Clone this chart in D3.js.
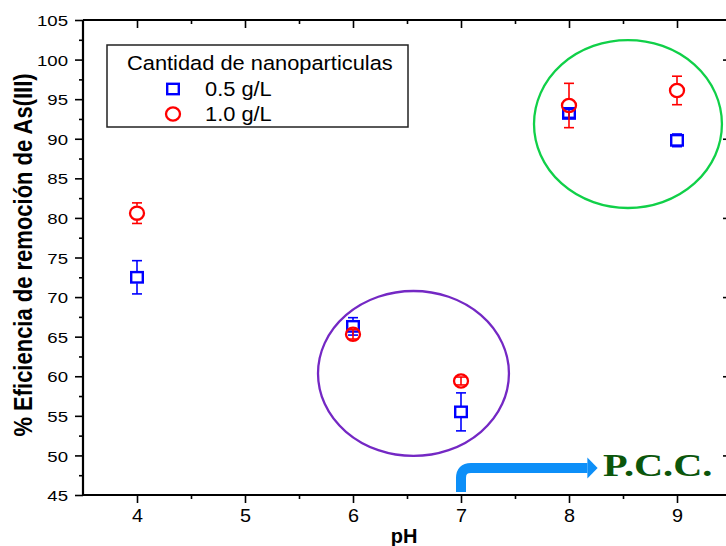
<!DOCTYPE html>
<html><head><meta charset="utf-8">
<script src="https://cdn.jsdelivr.net/npm/d3@7"></script>
<style>body{margin:0;background:#fff;} svg{display:block;background:#fff}</style>
</head><body><svg id="c" width="726" height="546"></svg>
<script>
// ---- data ----
const pH = [4, 6, 7, 8, 9];
const eff05 = [72.5, 66.3, 55.5, 93.2, 89.8];
const err05 = [2.1, 1.1, 2.4, 0.5, 0.8];
const eff10 = [80.6, 65.3, 59.4, 94.2, 96.1];
const err10 = [1.3, 0.6, 0.5, 2.8, 1.8];
const xTicks = [4, 5, 6, 7, 8, 9];
const xMinor = [4.5, 5.5, 6.5, 7.5, 8.5, 9.5];
const yTicks = [45, 50, 55, 60, 65, 70, 75, 80, 85, 90, 95, 100, 105];
const yMinor = [47.5, 52.5, 57.5, 62.5, 67.5, 72.5, 77.5, 82.5, 87.5, 92.5, 97.5, 102.5];
const yRightMajor = [50, 60, 70, 80, 90, 100];
const yRightMinor = [45, 55, 65, 75, 85, 95, 105];
const seriesNames = ["0.5 g/L", "1.0 g/L"];
const legendTitle = "Cantidad de nanoparticulas";
const xLabel = "pH";
const yLabel = "% Eficiencia de remoción de As(III)";
const note = "P.C.C.";

const SANS = "'Liberation Sans', Arial, sans-serif";
const SERIF = "'Liberation Serif', 'Times New Roman', serif";
const BLUE = "#0000ff", RED = "#ff0000";

const svg = d3.select("#c");
const x = d3.scaleLinear().domain([3.5, 9.5]).range([83, 731]);
const y = d3.scaleLinear().domain([45, 105]).range([495, 20]);

// ---- annotations (behind) ----
function ell(cx, cy, rxU, ryU, col) {
  svg.append("ellipse")
    .attr("cx", x(cx)).attr("cy", y(cy))
    .attr("rx", x(cx + rxU) - x(cx)).attr("ry", y(cy) - y(cy + ryU))
    .attr("fill", "none").attr("stroke", col).attr("stroke-width", 2.3);
}
ell(8.546, 91.86, 0.87, 10.61, "#10d048");
ell(6.56, 60.35, 0.884, 10.42, "#7428c4");

// ---- axes ----
function styleAxis(g) {
  g.select(".domain").remove();
  g.selectAll(".tick line").attr("stroke", "#000").attr("stroke-width", 1.6);
}
const gB = svg.append("g").attr("transform", `translate(0,${y(45)})`)
  .call(d3.axisBottom(x).tickValues(xTicks).tickSize(8).tickFormat(d3.format("d")));
styleAxis(gB);
gB.selectAll("text").attr("y", 0).attr("dy", 0)
  .attr("transform", "translate(0,27) scale(1.1,1)")
  .attr("font-family", SANS).attr("font-size", 18).attr("fill", "#000");
styleAxis(svg.append("g").attr("transform", `translate(0,${y(45)})`)
  .call(d3.axisBottom(x).tickValues(xMinor).tickSize(4).tickFormat("")));
styleAxis(svg.append("g").attr("transform", `translate(0,${y(105)})`)
  .call(d3.axisTop(x).tickValues(xTicks).tickSize(-8).tickFormat("")));
styleAxis(svg.append("g").attr("transform", `translate(0,${y(105)})`)
  .call(d3.axisTop(x).tickValues(xMinor).tickSize(-4).tickFormat("")));

const gL = svg.append("g").attr("transform", `translate(${x(3.5)},0)`)
  .call(d3.axisLeft(y).tickValues(yTicks).tickSize(8).tickFormat(d3.format("d")));
styleAxis(gL);
gL.selectAll("text").attr("x", 0).attr("dy", "0.36em")
  .attr("transform", "translate(-15,0) scale(1.2,1)")
  .attr("font-family", SANS).attr("font-size", 15.5).attr("fill", "#000");
styleAxis(svg.append("g").attr("transform", `translate(${x(3.5)},0)`)
  .call(d3.axisLeft(y).tickValues(yMinor).tickSize(4).tickFormat("")));
styleAxis(svg.append("g").attr("transform", `translate(${x(9.5)},0)`)
  .call(d3.axisRight(y).tickValues(yRightMajor).tickSize(-8).tickFormat("")));
styleAxis(svg.append("g").attr("transform", `translate(${x(9.5)},0)`)
  .call(d3.axisRight(y).tickValues(yRightMinor).tickSize(-4).tickFormat("")));

// frame
const fr = svg.append("g").attr("stroke", "#000").attr("stroke-width", 2.2);
fr.append("line").attr("x1", x(3.5)).attr("x2", x(9.5)).attr("y1", y(45)).attr("y2", y(45));
fr.append("line").attr("x1", x(3.5)).attr("x2", x(9.5)).attr("y1", y(105)).attr("y2", y(105));
fr.append("line").attr("x1", x(3.5)).attr("x2", x(3.5)).attr("y1", y(45)).attr("y2", y(105));
fr.append("line").attr("x1", x(9.5)).attr("x2", x(9.5)).attr("y1", y(45)).attr("y2", y(105));

// axis titles
svg.append("text").text(xLabel)
  .attr("transform", "translate(404,543)")
  .attr("text-anchor", "middle").attr("font-family", SANS).attr("font-weight", "bold")
  .attr("font-size", 20).attr("fill", "#000");
svg.append("text").text(yLabel)
  .attr("transform", "translate(32,255) scale(1.15,1) rotate(-90)")
  .attr("text-anchor", "middle").attr("font-family", SANS).attr("font-weight", "bold")
  .attr("font-size", 22).attr("fill", "#000");

// ---- arrow + P.C.C. ----
const ax = x(7), ay = y(48.4);
svg.append("path")
  .attr("d", `M${ax},${y(45) - 3} V${ay + 10} Q${ax},${ay} ${ax + 10},${ay} H${x(8.17)}`)
  .attr("fill", "none").attr("stroke", "#0d8ff8").attr("stroke-width", 10);
svg.append("path")
  .attr("d", `M${x(8.17)},${ay - 10.5} L${x(8.265)},${ay} L${x(8.17)},${ay + 10.5} Z`)
  .attr("fill", "#0d8ff8");
svg.append("text").text(note)
  .attr("transform", `translate(${x(8.315)},${y(47.35)}) scale(1.26,1)`)
  .attr("font-family", SERIF).attr("font-weight", "bold").attr("font-size", 32)
  .attr("fill", "#0b560b");

// ---- series ----
function drawErr(g, xs, vs, es, col, half) {
  xs.forEach((xv, i) => {
    const cx = x(xv), cy = y(vs[i]);
    const ep = y(vs[i] - es[i]) - cy;
    const e = g.append("g").attr("stroke", col).attr("stroke-width", 1.6);
    if (ep > half) {
      e.append("line").attr("x1", cx).attr("x2", cx).attr("y1", cy - ep).attr("y2", cy - half);
      e.append("line").attr("x1", cx).attr("x2", cx).attr("y1", cy + half).attr("y2", cy + ep);
    } else {
      e.append("line").attr("x1", cx).attr("x2", cx).attr("y1", cy - ep).attr("y2", cy + ep);
    }
    e.append("line").attr("x1", cx - 5).attr("x2", cx + 5).attr("y1", cy - ep).attr("y2", cy - ep);
    e.append("line").attr("x1", cx - 5).attr("x2", cx + 5).attr("y1", cy + ep).attr("y2", cy + ep);
  });
}
function square(g, cx, cy) {
  g.append("rect").attr("x", cx - 5.8).attr("y", cy - 5.2).attr("width", 11.6).attr("height", 10.4)
    .attr("fill", "none").attr("stroke", BLUE).attr("stroke-width", 2.4);
}
function circle(g, cx, cy) {
  g.append("ellipse").attr("cx", cx).attr("cy", cy).attr("rx", 7).attr("ry", 6.6)
    .attr("fill", "none").attr("stroke", RED).attr("stroke-width", 2.3);
}
const gS = svg.append("g");
drawErr(gS, pH, eff05, err05, BLUE, 6);
pH.forEach((p, i) => square(gS, x(p), y(eff05[i])));
const gC = svg.append("g");
drawErr(gC, pH, eff10, err10, RED, 7.5);
pH.forEach((p, i) => circle(gC, x(p), y(eff10[i])));

// ---- legend ----
const lg = svg.append("g");
lg.append("rect").attr("x", 107).attr("y", 45).attr("width", 301).attr("height", 82)
  .attr("fill", "#fff").attr("stroke", "#222").attr("stroke-width", 1.5);
lg.append("text").text(legendTitle)
  .attr("transform", "translate(127,70) scale(1.12,1)")
  .attr("font-family", SANS).attr("font-size", 19.5).attr("fill", "#000");
square(lg, 173, 89);
circle(lg, 173, 114);
seriesNames.forEach((s, i) => {
  lg.append("text").text(s)
    .attr("transform", `translate(205,${95.5 + i * 25}) scale(1.12,1)`)
    .attr("font-family", SANS).attr("font-size", 19.5).attr("fill", "#000");
});
</script></body></html>
